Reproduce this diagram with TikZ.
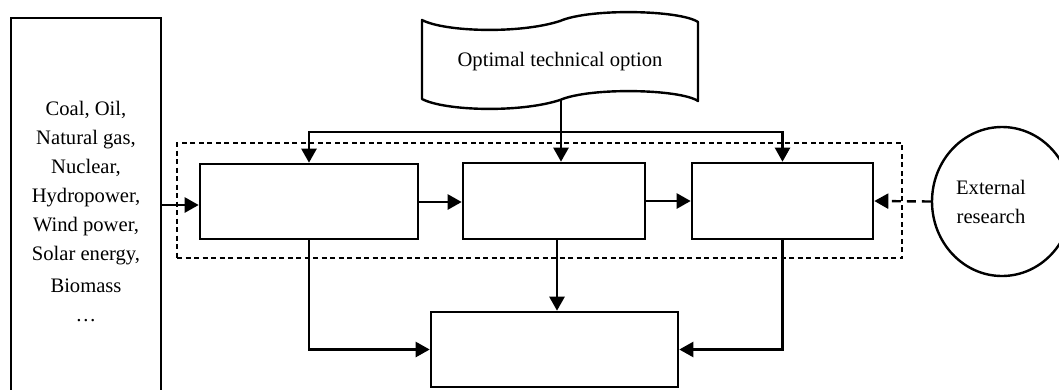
\documentclass[tikz,border=0pt]{standalone}
\usepackage{fontspec}
\setmainfont{Liberation Serif}
\usetikzlibrary{arrows.meta,shapes.geometric,calc}
\begin{document}
\begin{tikzpicture}[x=1pt,y=-1pt,
  box/.style={draw,line width=2.6pt,rectangle,inner sep=0pt,minimum height=75pt},
  conn/.style={line width=2.4pt,-{Triangle[length=14pt,width=15pt]}},
  frame/.style={draw,line width=1.3pt,dash pattern=on 5pt off 3.5pt,inner sep=0pt},
  txt/.style={font=\fontsize{20.6}{29}\selectfont,inner sep=0pt,align=center}]
\useasboundingbox (0,0) rectangle (1059,389);
\clip (0,0) rectangle (1059,389);
% source box
\node[box,minimum width=150pt,minimum height=402pt] (src) at (86,219) {};
\node[txt] (srctext) at (86,211) {Coal, Oil,\\Natural gas,\\Nuclear,\\Hydropower,\\Wind power,\\Solar energy,\\[3pt]Biomass\\\ldots};
% group frame
\node[frame,minimum width=725pt,minimum height=115pt] (grp) at (539.5,200.5) {};
% process boxes
\node[box,minimum width=218pt] (b1) at (309,201.5) {};
\node[box,minimum width=182pt,minimum height=76pt] (b2) at (554,201) {};
\node[box,minimum width=181pt,minimum height=76pt] (b3) at (782.5,201) {};
\node[box,minimum width=247pt] (out) at (554.5,349.5) {};
% document shape
\draw[line width=2.4pt,line join=round]
  (422,20) .. controls (445,32) and (520,34) .. (560,21)
           .. controls (590,8) and (680,10) .. (698,22)
  -- (698,101)
           .. controls (680,89) and (590,87) .. (560,100)
           .. controls (520,113) and (445,111) .. (422,99)
  -- cycle;
\node[txt] (doc) at (560,62) {Optimal technical option};
\coordinate (docb) at (561,99);
% external research
\node[draw,ellipse,line width=2.4pt,minimum width=140pt,minimum height=149pt,inner sep=0pt] (ext) at (1002,201.5) {};
\node[txt] (exttext) at (991,202) {External\\research};
% connectors
\draw[conn] (src.east |- 0,205) -- (b1.west |- 0,205);
\draw[conn] (b1.east |- 0,202) -- (b2.west |- 0,202);
\draw[conn] (b2.east |- 0,201) -- (b3.west |- 0,201);
\draw[conn] (docb) -- (docb |- b2.north);
\draw[conn] (docb |- 0,132) -| (b1.north);
\draw[conn] (docb |- 0,132) -| (b3.north);
\draw[conn] (b1.south) |- (out.west);
\draw[conn] (b3.south) |- (out.east);
\draw[conn] (b2.south -| 557,0) -- (out.north -| 557,0);
\draw[conn,dash pattern=on 9pt off 6pt] (ext.west) -- (b3.east);
\end{tikzpicture}
\end{document}
